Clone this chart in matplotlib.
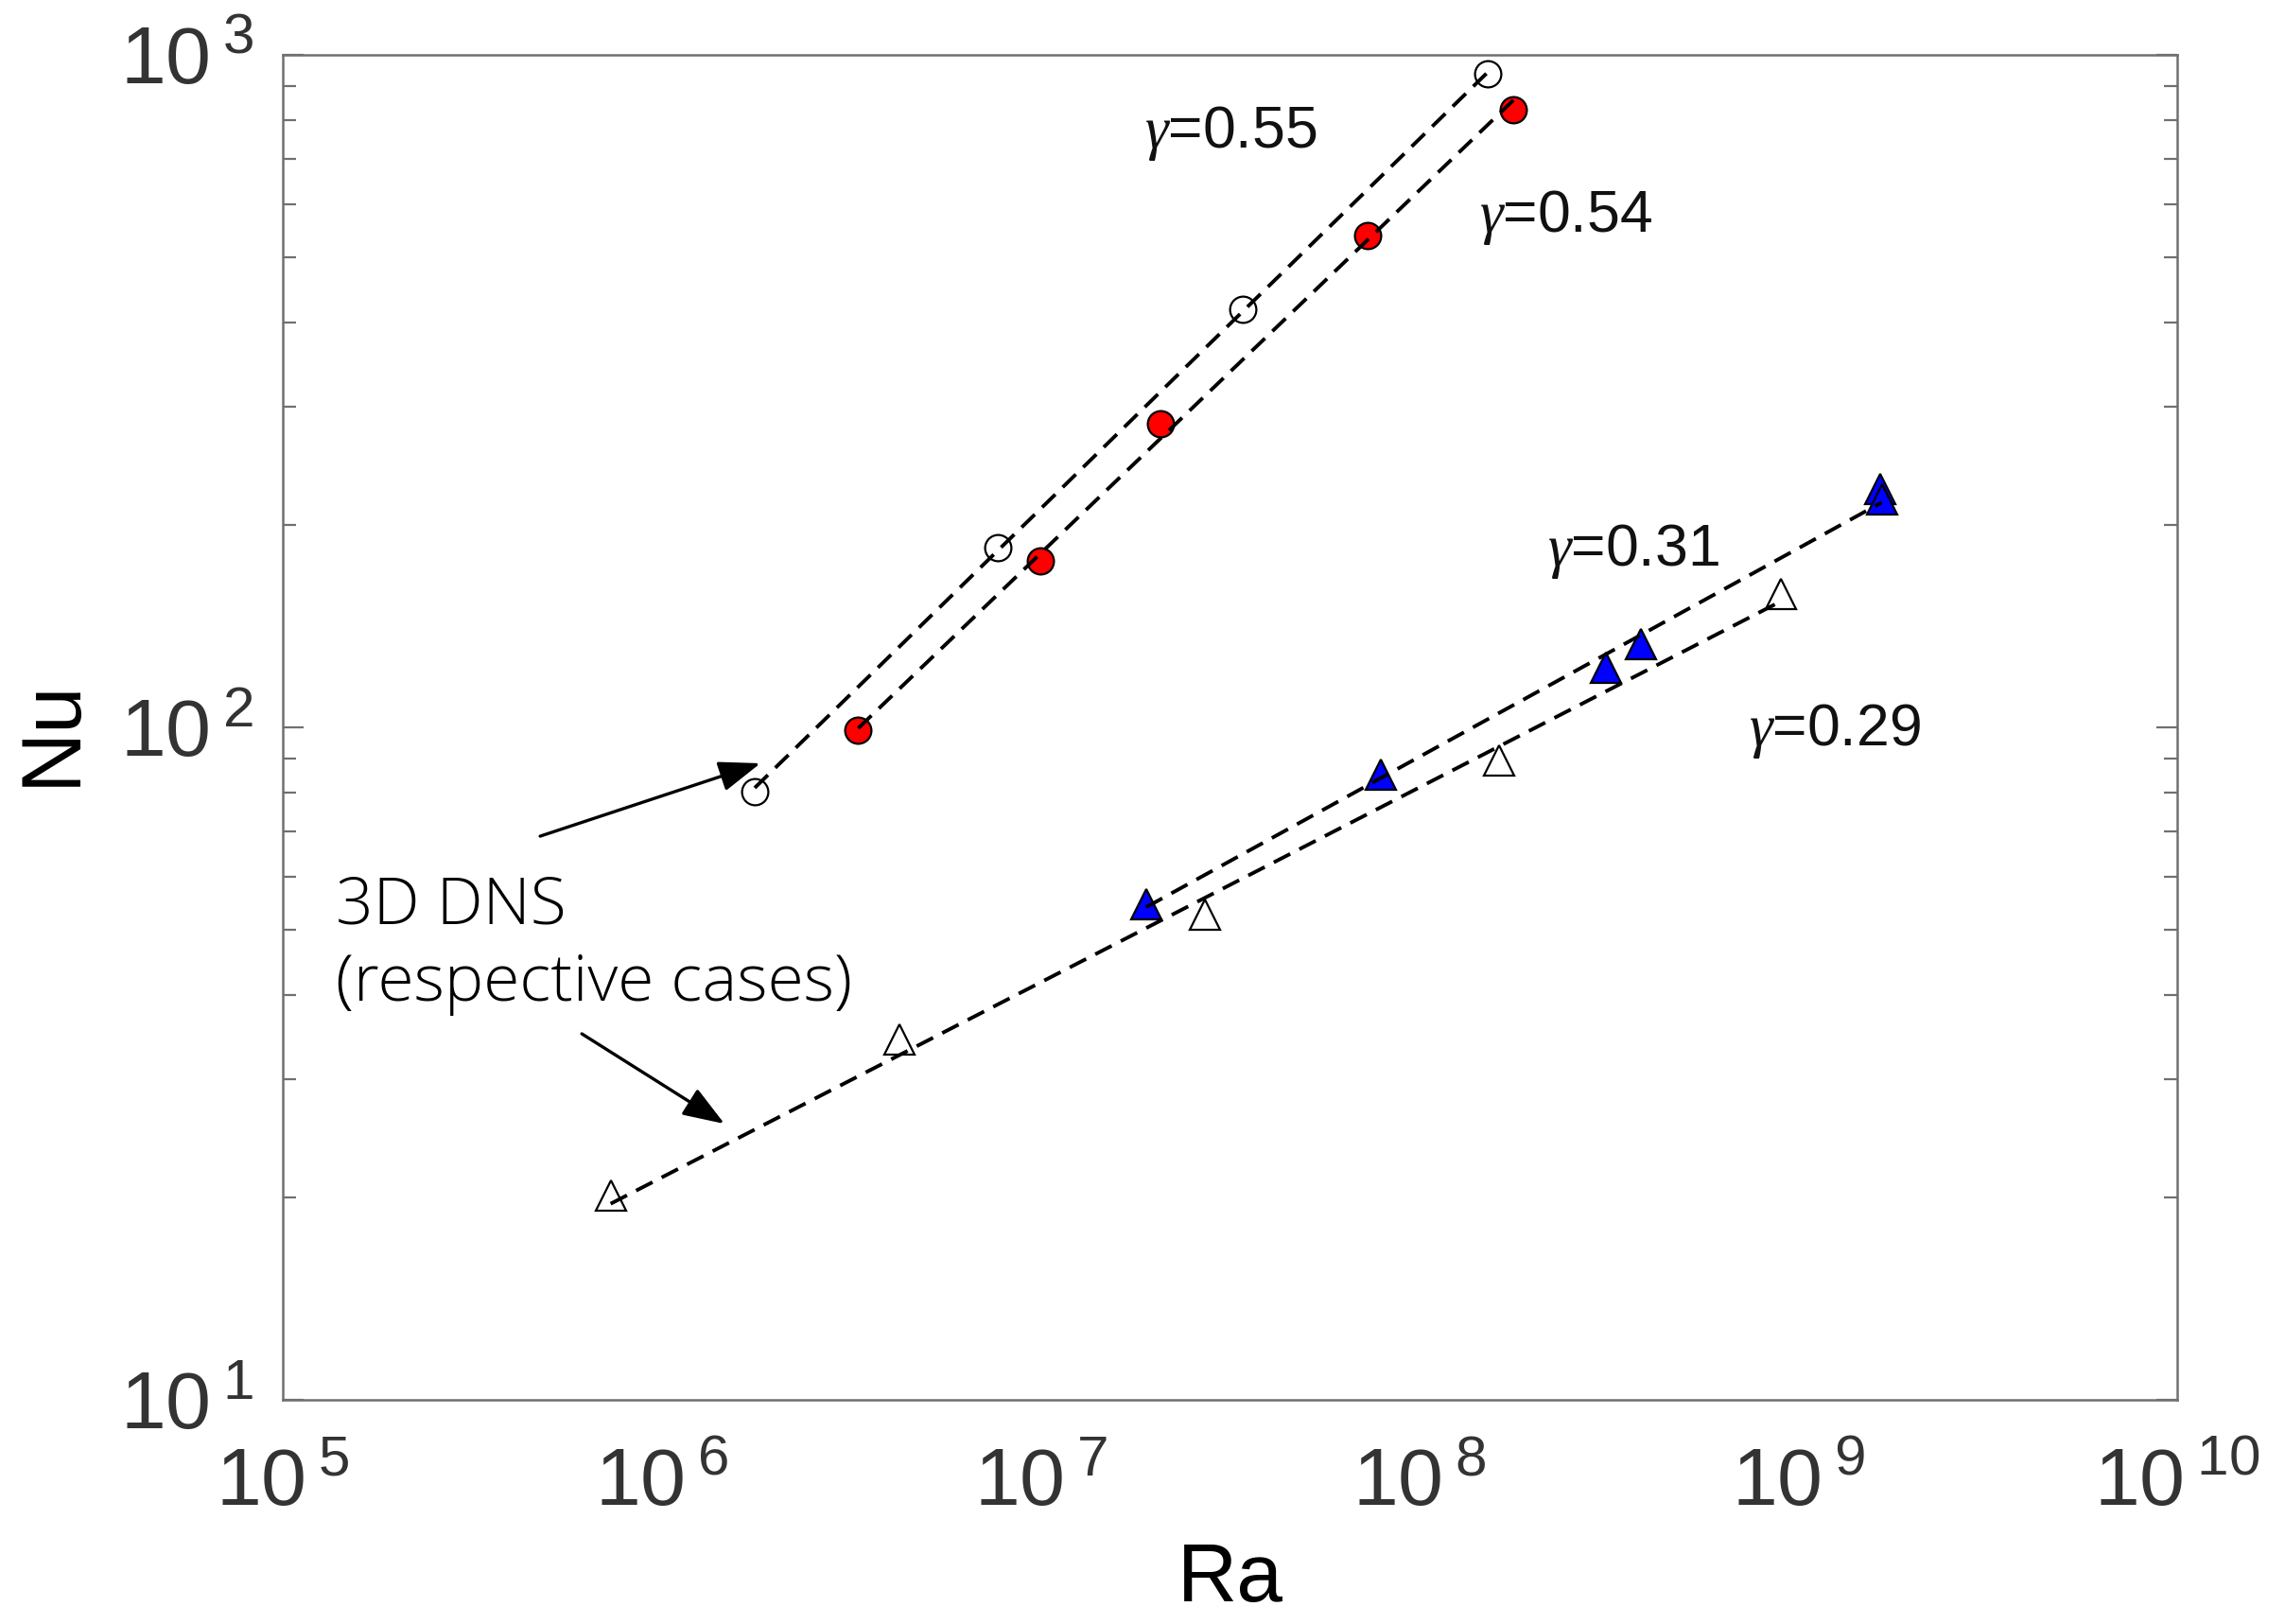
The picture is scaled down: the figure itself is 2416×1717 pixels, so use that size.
import numpy as np
import matplotlib
matplotlib.use("Agg")
import matplotlib.pyplot as plt
from matplotlib.ticker import FuncFormatter, NullFormatter, NullLocator

# Nusselt number vs Rayleigh number, four cases with power-law fits
ra_open_circle = [1.76e6, 7.7e6, 3.41e7, 1.51e8]
nu_open_circle = [80.2, 185.0, 418.0, 937.0]
gamma_open_circle = 0.55

ra_red_circle = [3.3e6, 1.0e7, 2.07e7, 7.3e7, 1.77e8]
nu_red_circle = [99.0, 177.0, 283.0, 538.0, 828.0]
gamma_red_circle = 0.54

ra_blue_tri = [1.9e7, 7.9e7, 3.11e8, 3.85e8, 1.645e9, 1.66e9]
nu_blue_tri = [54.6, 85.1, 122.5, 133.0, 226.0, 218.0]
gamma_blue_tri = 0.31

ra_open_tri = [7.33e5, 4.23e6, 2.71e7, 1.62e8, 9.02e8]
nu_open_tri = [20.1, 34.3, 52.7, 89.3, 158.0]
gamma_open_tri = 0.29

x_ticks = [1e5, 1e6, 1e7, 1e8, 1e9, 1e10]
y_ticks = [1e1, 1e2, 1e3]

plt.rcParams["font.family"] = ["Liberation Sans", "DejaVu Sans"]
plt.rcParams["mathtext.fontset"] = "custom"
plt.rcParams["mathtext.rm"] = "Liberation Sans"
plt.rcParams["mathtext.it"] = "Liberation Serif:italic"
plt.rcParams["mathtext.default"] = "rm"

fig = plt.figure(figsize=(24.16, 17.17), dpi=100)
ax = fig.add_axes([0.1238, 0.138, 0.8290, 0.8282])
ax.set_xscale("log")
ax.set_yscale("log")
ax.set_xlim(1e5, 1e10)
ax.set_ylim(1e1, 1e3)


def fit_line(ra, nu, gamma):
    """Power law Nu = C Ra^gamma with the stated exponent, C fitted in log space."""
    ra = np.asarray(ra)
    nu = np.asarray(nu)
    logc = np.mean(np.log10(nu) - gamma * np.log10(ra))
    xs = np.array([ra.min(), ra.max()])
    return xs, 10 ** logc * xs ** gamma


series = [
    (ra_open_circle, nu_open_circle, gamma_open_circle, "o", "white", 20),
    (ra_red_circle, nu_red_circle, gamma_red_circle, "o", "#ff0000", 20),
    (ra_blue_tri, nu_blue_tri, gamma_blue_tri, "^", "#0000ff", 23),
    (ra_open_tri, nu_open_tri, gamma_open_tri, "^", "white", 23),
]

for ra, nu, gamma, mk, fc, ms in series:
    ax.plot(ra, nu, linestyle="none", marker=mk, markersize=ms,
            markerfacecolor=fc, markeredgecolor="black", markeredgewidth=1.6,
            zorder=3)
    xs, ys = fit_line(ra, nu, gamma)
    ax.plot(xs, ys, color="black", linewidth=2.8, linestyle=(0, (5.0, 2.8)),
            zorder=4)

# exponent labels
label_style = dict(fontsize=45, ha="left", va="baseline", color="#111111",
                   transform=ax.transAxes)
ax.text(0.4548, 0.9311, r"$\it{\gamma}$=%.2f" % gamma_open_circle, **label_style)
ax.text(0.6316, 0.8685, r"$\it{\gamma}$=%.2f" % gamma_red_circle, **label_style)
ax.text(0.6673, 0.6203, r"$\it{\gamma}$=%.2f" % gamma_blue_tri, **label_style)
ax.text(0.7738, 0.4866, r"$\it{\gamma}$=%.2f" % gamma_open_tri, **label_style)

# annotation for the 3D DNS reference cases
note_style = dict(fontsize=50, ha="left", va="baseline", color="black",
                  family=["Open Sans", "DejaVu Sans"], fontweight="light",
                  transform=ax.transAxes)
ax.text(0.028, 0.3544, "3D DNS", **note_style)
ax.text(0.028, 0.2968, "(respective cases)", **note_style)

arrow = dict(arrowstyle="-|>,head_length=0.6,head_width=0.22", color="black",
             lw=2.4, mutation_scale=45, shrinkA=0, shrinkB=0)
ax.annotate("", xy=(0.2521, 0.4733), xytext=(0.1358, 0.4191),
            xycoords="axes fraction", textcoords="axes fraction",
            arrowprops=arrow)
ax.annotate("", xy=(0.2331, 0.2053), xytext=(0.1578, 0.2722),
            xycoords="axes fraction", textcoords="axes fraction",
            arrowprops=arrow)


def power_label(val, pos):
    return r"$\mathdefault{10^{\;%d}}$" % int(round(np.log10(val)))


# axes styling
ax.set_xticks(x_ticks)
ax.set_yticks(y_ticks)
ax.xaxis.set_major_formatter(FuncFormatter(power_label))
ax.yaxis.set_major_formatter(FuncFormatter(power_label))
ax.xaxis.set_minor_locator(NullLocator())
ax.yaxis.set_minor_formatter(NullFormatter())
ax.tick_params(axis="x", which="both", length=0, pad=36, labelsize=62,
               labelcolor="#333333")
ax.tick_params(axis="y", which="major", direction="in", left=True, right=True,
               length=16, width=1.6, color="#707070", pad=22, labelsize=62,
               labelcolor="#333333")
ax.tick_params(axis="y", which="minor", direction="in", left=True, right=True,
               length=10, width=1.6, color="#707070")
for sp in ax.spines.values():
    sp.set_color("#707070")
    sp.set_linewidth(1.8)

ax.set_xlabel("Ra", fontsize=63, va="baseline")
ax.xaxis.set_label_coords(0.5, -0.150)
ax.set_ylabel("Nu", fontsize=64, va="center")
ax.yaxis.set_label_coords(-0.1213, 0.496)

fig.savefig("out.png", dpi=100, facecolor="white")
